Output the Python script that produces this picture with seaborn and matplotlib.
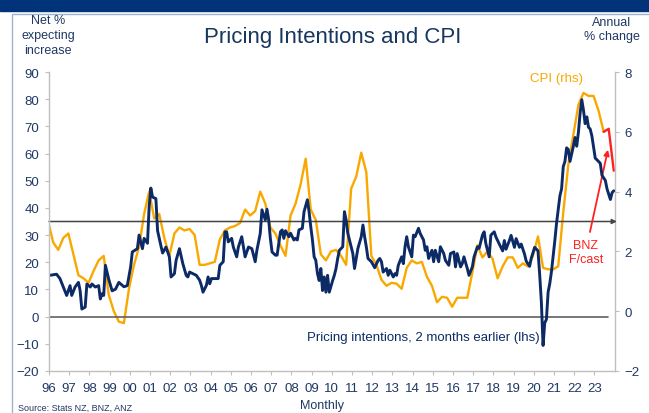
import pandas as pd
import matplotlib.pyplot as plt
import seaborn as sns
from matplotlib.patches import Rectangle

sns.set_style("white")
plt.rcParams["font.family"] = ["Liberation Sans", "DejaVu Sans"]

# Pricing intentions, 2 months earlier (lhs), net %
pi_months = [
    "1996-01", "1996-05", "1996-07", "1996-09", "1996-11",
    "1997-01", "1997-02", "1997-04", "1997-06", "1997-07", "1997-08", "1997-10", "1997-11",
    "1998-01", "1998-02", "1998-04", "1998-06", "1998-07", "1998-08", "1998-09", "1998-10", "1998-12",
    "1999-02", "1999-04", "1999-06", "1999-09", "1999-11",
    "2000-01", "2000-02", "2000-05", "2000-06", "2000-08", "2000-09", "2000-11", "2000-12",
    "2001-01", "2001-02", "2001-04", "2001-05", "2001-07", "2001-08", "2001-10", "2001-12",
    "2002-01", "2002-03", "2002-04", "2002-06", "2002-08", "2002-10", "2002-11", "2002-12",
    "2003-02", "2003-04", "2003-06", "2003-07", "2003-08", "2003-10", "2003-11", "2003-12",
    "2004-01", "2004-03", "2004-05", "2004-06", "2004-08", "2004-09", "2004-10", "2004-11",
    "2005-01", "2005-02", "2005-04", "2005-05", "2005-07", "2005-09", "2005-11",
    "2006-01", "2006-03", "2006-04", "2006-06", "2006-07", "2006-09", "2006-10", "2006-11", "2006-12",
    "2007-01", "2007-03", "2007-04", "2007-06", "2007-07", "2007-08", "2007-09", "2007-11", "2007-12",
    "2008-02", "2008-03", "2008-04", "2008-05", "2008-07", "2008-08", "2008-10", "2008-11", "2008-12",
    "2009-01", "2009-02", "2009-03", "2009-04", "2009-05", "2009-06", "2009-07", "2009-08", "2009-09",
    "2009-10", "2009-11",
    "2010-01", "2010-02", "2010-03", "2010-04", "2010-05", "2010-07", "2010-08", "2010-09", "2010-10",
    "2010-11",
    "2011-01", "2011-02", "2011-03", "2011-04", "2011-06", "2011-07", "2011-08", "2011-09", "2011-10",
    "2011-12",
    "2012-02", "2012-04", "2012-05", "2012-06", "2012-07", "2012-09", "2012-10", "2012-11",
    "2013-01", "2013-02", "2013-03", "2013-04", "2013-06", "2013-07", "2013-08", "2013-09", "2013-10",
    "2013-12",
    "2014-01", "2014-02", "2014-04", "2014-05", "2014-07", "2014-08", "2014-09", "2014-10", "2014-12",
    "2015-01", "2015-02", "2015-04", "2015-05", "2015-07", "2015-08", "2015-10", "2015-11",
    "2016-01", "2016-02", "2016-03", "2016-05", "2016-06", "2016-07", "2016-09", "2016-10", "2016-12",
    "2017-01", "2017-03", "2017-04", "2017-06", "2017-07", "2017-08", "2017-10", "2017-11",
    "2018-01", "2018-02", "2018-04", "2018-06", "2018-07", "2018-08", "2018-10", "2018-11",
    "2019-01", "2019-02", "2019-04", "2019-05", "2019-07", "2019-08", "2019-10", "2019-11",
    "2020-01", "2020-03", "2020-04", "2020-05", "2020-06", "2020-07", "2020-08", "2020-09", "2020-10",
    "2020-11",
    "2021-01", "2021-02", "2021-04", "2021-05", "2021-06", "2021-07", "2021-08", "2021-09", "2021-10",
    "2021-12",
    "2022-01", "2022-02", "2022-03", "2022-04", "2022-05", "2022-06", "2022-07", "2022-08", "2022-09",
    "2022-10", "2022-11",
    "2023-01", "2023-02", "2023-04", "2023-05", "2023-07", "2023-08", "2023-10", "2023-11", "2023-12",
]
pi_values = [
    15.2, 15.6, 14.0, 10.9, 7.8,
    11.4, 7.8, 10.9, 12.6, 9.5, 2.8, 3.5, 12.0,
    10.9, 12.0, 10.9, 11.4, 6.5, 8.4, 7.8, 18.9, 13.7,
    9.5, 10.1, 12.6, 11.0, 11.4,
    18.3, 23.8, 25.0, 30.0, 25.0, 28.8, 27.0, 40.5,
    47.3, 44.0, 43.4, 31.6, 26.0, 23.4, 25.6, 22.0,
    14.6, 15.8, 20.7, 25.0, 19.5, 15.2, 14.6, 16.4,
    15.8, 15.2, 13.4, 11.5, 9.0, 11.5, 14.6, 12.1,
    14.0, 14.0, 14.0, 18.9, 20.2, 31.2, 31.2, 27.5,
    28.8, 25.6, 22.0, 25.6, 29.4, 22.0, 25.6,
    25.0, 20.2, 24.4, 30.6, 39.3, 35.6, 39.5, 35.6, 28.8,
    23.8, 22.6, 22.6, 31.2, 31.9, 28.8, 31.6, 29.4, 30.7,
    28.2, 28.8, 28.2, 31.9, 32.5, 38.6, 43.0, 38.6, 33.1,
    28.2, 22.0, 20.7, 15.8, 13.3, 17.7, 9.6, 14.6, 9.0,
    15.2, 9.0,
    13.3, 15.2, 17.7, 21.4, 24.4, 25.7, 38.6, 35.6, 30.7,
    28.2,
    23.2, 17.7, 21.4, 25.1, 29.4, 33.7, 29.4, 25.7, 21.4,
    20.2,
    18.0, 20.7, 21.4, 20.2, 16.4, 17.7, 15.2, 17.1,
    14.6, 15.8, 15.2, 18.9, 22.0, 19.5, 25.7, 29.4, 25.7,
    22.0,
    30.0, 29.4, 32.5, 30.6, 28.2, 24.4, 25.7, 21.4, 24.4,
    20.2, 24.4, 20.2, 25.7, 23.2, 20.7, 18.9, 23.2,
    23.8, 18.3, 23.2, 18.3, 19.5, 22.0, 17.7, 15.2, 18.3,
    22.0, 25.7, 25.1, 30.0, 31.2, 26.9, 22.0, 30.0,
    31.2, 29.3, 26.7, 24.2, 28.0, 24.8, 28.0, 29.9,
    25.5, 28.7, 25.5, 26.7, 23.0, 20.4, 18.5, 21.5,
    25.5, 24.2, 15.4, 5.3, -10.6, -2.3, -1.0, 9.0, 12.2,
    16.6,
    28.0, 34.3, 44.4, 47.0, 55.2, 57.1, 62.1, 61.5, 57.1,
    62.7,
    65.9, 62.7, 67.8, 74.8, 79.8, 76.0, 71.0, 73.5, 69.7,
    69.0, 66.5,
    58.3, 57.7, 56.4, 52.0, 50.1, 47.0, 43.1, 45.6, 46.3,
]

# CPI annual % change (rhs), quarterly from Dec 1995
cpi_start = "1995-12"
cpi_values = [
    3.0,
    2.3, 2.05, 2.45, 2.6,
    1.9, 1.2, 1.1, 0.95,
    1.35, 1.7, 1.85, 0.55,
    0.0, -0.35, -0.4, 0.75,
    1.55, 2.15, 3.25, 4.0,
    3.1, 3.25, 2.45, 1.85,
    2.6, 2.8, 2.7, 2.75,
    2.55, 1.55, 1.55, 1.6,
    1.65, 2.4, 2.7, 2.8,
    2.85, 2.95, 3.4, 3.2,
    3.35, 4.0, 3.6, 2.8,
    2.6, 2.2, 1.85, 3.2,
    3.6, 4.25, 5.1, 3.4,
    3.05, 1.9, 1.7, 2.0,
    2.05, 1.85, 1.55, 4.1,
    4.5, 5.3, 4.65, 1.85,
    1.55, 1.05, 0.85, 0.95,
    0.92, 0.75, 1.45, 1.7,
    1.6, 1.65, 1.15, 0.85,
    0.3, 0.48, 0.45, 0.15,
    0.45, 0.45, 0.45, 1.3,
    2.2, 1.8, 2.0, 1.75,
    1.1, 1.5, 1.8, 1.8,
    1.45, 1.6, 1.5, 1.85,
    2.5, 1.45, 1.4, 1.4,
    1.5, 3.3, 4.9, 5.9,
    6.9, 7.3, 7.2, 7.2,
    6.7, 6.0,
]

# BNZ forecast
fc_months = ["2023-06", "2023-09", "2023-12"]
fc_values = [6.0, 6.1, 4.7]

year_labels = ["96", "97", "98", "99", "00", "01", "02", "03", "04", "05", "06", "07", "08", "09",
               "10", "11", "12", "13", "14", "15", "16", "17", "18", "19", "20", "21", "22", "23"]


def to_year(months):
    d = pd.to_datetime(months)
    return (d.year + (d.month - 0.5) / 12).to_numpy()


pi_x = to_year(pi_months)
cpi_x = to_year(pd.date_range(cpi_start, periods=len(cpi_values), freq="3MS"))
fc_x = to_year(fc_months)

NAVY = "#0C2B66"
ORANGE = "#F9A800"
RED = "#FF2020"
TXT = "#1F3864"
GREY = "#BFBFBF"

W, H = 649, 414
fig = plt.figure(figsize=(W / 100, H / 100), dpi=100)


def fx(x):
    return x / W


def fy(y):
    return 1 - y / H


# header band and panel frame
fig.add_artist(Rectangle((0, fy(12)), 1, 12 / H, transform=fig.transFigure,
                         color="#00337A", zorder=0))
fig.add_artist(Rectangle((fx(12), -0.01), 1, fy(15) + 0.01, transform=fig.transFigure,
                         fill=False, edgecolor="#9DB3CF", lw=1, zorder=0))

ax = fig.add_axes([fx(49), fy(372), (614.6 - 49) / W, (372 - 73) / H])
ax2 = ax.twinx()

sns.lineplot(x=cpi_x, y=cpi_values, ax=ax2, color=ORANGE, linewidth=1.7)
sns.lineplot(x=fc_x, y=fc_values, ax=ax2, color=RED, linewidth=1.7)
sns.lineplot(x=pi_x, y=pi_values, ax=ax, color=NAVY, linewidth=2.1)

ax.set_zorder(ax2.get_zorder() + 1)
ax.patch.set_visible(False)

ax.set_xlim(1996, 2024)
ax.set_ylim(-20, 90)
ax2.set_ylim(-2, 8)
ax.set_yticks(range(-20, 91, 10))
ax2.set_yticks(range(-2, 9, 2))
ax.set_xticks([1996 + i for i in range(len(year_labels))])
ax.set_xticklabels(year_labels)
ax.set_xlabel("")
ax.set_ylabel("")
ax2.set_ylabel("")

for a in (ax, ax2):
    for s in a.spines.values():
        s.set_color(GREY)
        s.set_linewidth(1)
    a.spines["top"].set_visible(False)
ax.spines["right"].set_visible(False)
ax2.spines["left"].set_visible(False)
ax2.spines["bottom"].set_visible(False)

ax.tick_params(axis="y", left=True, direction="out", length=3, color=GREY,
               labelcolor=TXT, labelsize=9.5, pad=4)
ax.tick_params(axis="x", bottom=True, direction="out", length=3, color=GREY,
               labelcolor=TXT, labelsize=9.5, pad=5)
ax2.tick_params(axis="y", right=True, direction="out", length=3, color=GREY,
                labelcolor=TXT, labelsize=9.5, pad=4)

# reference lines
ax.axhline(0, xmin=0, xmax=0.988, color="#606060", lw=1.2, zorder=1)
ax2.annotate("", xy=(1.004, 3), xycoords=("axes fraction", "data"),
             xytext=(0, 3), textcoords=("axes fraction", "data"),
             arrowprops=dict(arrowstyle="-|>", color="#454545", lw=1.1,
                             mutation_scale=7, shrinkA=0, shrinkB=0))

# forecast arrow
ax2.annotate("", xy=(2023.67, 5.4), xytext=(2022.78, 2.65),
             arrowprops=dict(arrowstyle="-|>", color=RED, lw=1.3,
                             mutation_scale=8, shrinkA=0, shrinkB=0))

# texts
fig.text(fx(333), fy(37), "Pricing Intentions and CPI", ha="center", va="center",
         fontsize=16, color="#17375E")
fig.text(fx(48), fy(36), "Net %\nexpecting\nincrease", ha="center", va="center",
         fontsize=9, color=TXT, linespacing=1.3)
fig.text(fx(612), fy(30), "Annual\n% change", ha="center", va="center",
         fontsize=9, color=TXT, linespacing=1.3)
fig.text(fx(556), fy(79), "CPI (rhs)", ha="center", va="center", fontsize=9.5, color=ORANGE)
fig.text(fx(540), fy(338), "Pricing intentions, 2 months earlier (lhs)", ha="right",
         va="center", fontsize=9.5, color=NAVY)
fig.text(fx(586), fy(253), "BNZ\nF/cast", ha="center", va="center", fontsize=9,
         color=RED, linespacing=1.3)
fig.text(fx(322), fy(406), "Monthly", ha="center", va="center", fontsize=9, color=TXT)
fig.text(fx(18), fy(408), "Source: Stats NZ, BNZ, ANZ", ha="left", va="center",
         fontsize=6.5, color=TXT)

fig.savefig("out.png", dpi=100)
